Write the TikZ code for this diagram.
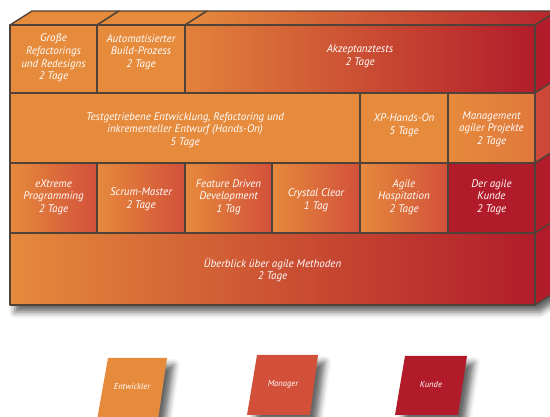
\documentclass[tikz,border=0pt]{standalone}
\usepackage{fontspec}
\setmainfont{PT Sans}
\usetikzlibrary{shadows.blur}

\definecolor{orng}{HTML}{E68A3C}
\definecolor{rotm}{HTML}{D2503A}
\definecolor{dunkelrot}{HTML}{B21C2A}
\definecolor{kante}{HTML}{4F4339}

\tikzset{
  kasten/.style={draw=kante, line width=1.4pt, line join=round},
  lbl/.style={text=white, align=center, font=\itshape\fontsize{11}{12.6}\selectfont},
  legende/.style={text=white, font=\itshape\fontsize{8.6}{10}\selectfont},
  schatten/.style={blur shadow={shadow xshift=#1, shadow yshift=-7pt, shadow blur radius=6pt, shadow opacity=60}},
}

\begin{document}
\begin{tikzpicture}[x=1pt,y=-1pt]
\useasboundingbox (0,0) rectangle (550,417);

% Schatten unter dem Block
\fill[white, schatten=5pt] (10,25)--(32,11)--(557,11)--(557,291)--(535,305)--(10,305)--cycle;

% Deckflaechen
\draw[kasten, fill=orng] (10,25)--(32,11)--(119,11)--(97,25)--cycle;
\draw[kasten, fill=orng] (97,25)--(119,11)--(207,11)--(185,25)--cycle;
\draw[kasten, left color=orng, right color=dunkelrot!85!rotm] (185,25)--(207,11)--(557,11)--(535,25)--cycle;

% Seitenflaechen
\draw[kasten, fill=dunkelrot] (535,25)--(557,11)--(557,79)--(535,93)--cycle;
\draw[kasten, fill=rotm!85!dunkelrot] (535,93)--(557,79)--(557,149)--(535,163)--cycle;
\draw[kasten, fill=dunkelrot] (535,163)--(557,149)--(557,219)--(535,233)--cycle;
\draw[kasten, fill=dunkelrot] (535,233)--(557,219)--(557,291)--(535,305)--cycle;

% obere Reihe
\draw[kasten, fill=orng] (10,25) rectangle (97,93);
\draw (53.5,58)node[lbl](gross){Große\\Refactorings\\und Redesigns\\2 Tage};

\draw[kasten, fill=orng] (97,25) rectangle (185,93);
\draw (141,52)node[lbl](build){Automatisierter\\Build-Prozess\\2 Tage};

\draw[kasten, left color=orng!85!rotm, right color=dunkelrot] (185,25) rectangle (535,93);
\draw (360,56)node[lbl](akzeptanz){Akzeptanztests\\2 Tage};

% zweite Reihe
\draw[kasten, fill=orng] (10,93) rectangle (360,163);
\draw (185,130)node[lbl](tdd){Testgetriebene Entwicklung, Refactoring und\\inkrementeller Entwurf (Hands-On)\\5 Tage};

\draw[kasten, fill=orng] (360,93) rectangle (448,163);
\draw (404,125)node[lbl](xp){XP-Hands-On\\5 Tage};

\draw[kasten, left color=orng, right color=orng!70!rotm] (448,93) rectangle (535,163);
\draw (491.5,129)node[lbl](mgmt){Management\\agiler Projekte\\2 Tage};

% dritte Reihe
\draw[kasten, left color=orng, right color=rotm] (10,163) rectangle (97,233);
\draw (53.5,197)node[lbl](xtreme){eXtreme\\Programming\\2 Tage};

\draw[kasten, left color=orng, right color=rotm] (97,163) rectangle (185,233);
\draw (141,199)node[lbl](scrum){Scrum-Master\\2 Tage};

\draw[kasten, left color=orng, right color=rotm] (185,163) rectangle (272,233);
\draw (228.5,197)node[lbl](fdd){Feature Driven\\Development\\1 Tag};

\draw[kasten, left color=orng, right color=rotm] (272,163) rectangle (360,233);
\draw (316,200)node[lbl](crystal){Crystal Clear\\1 Tag};

\draw[kasten, left color=orng, right color=rotm] (360,163) rectangle (448,233);
\draw (404,197)node[lbl](hosp){Agile\\Hospitation\\2 Tage};

\draw[kasten, fill=dunkelrot] (448,163) rectangle (535,233);
\draw (491.5,197)node[lbl](kunde){Der agile\\Kunde\\2 Tage};

% untere Reihe
\draw[kasten, left color=orng, right color=dunkelrot] (10,233) rectangle (535,305);
\draw (272.5,270)node[lbl](ueberblick){Überblick über agile Methoden\\2 Tage};

% Legende
\fill[orng, schatten=7pt] (108,358)--(167,358)--(158,420)--(97,420)--cycle;
\draw (132,387)node[legende](entw){Entwickler};

\fill[rotm, schatten=7pt] (257,355)--(318,355)--(310,415)--(247,415)--cycle;
\draw (283,384)node[legende](manager){Manager};

\fill[dunkelrot, schatten=7pt] (405,356)--(467,356)--(458,415)--(395,415)--cycle;
\draw (431,385)node[legende](kundeleg){Kunde};
\end{tikzpicture}
\end{document}
